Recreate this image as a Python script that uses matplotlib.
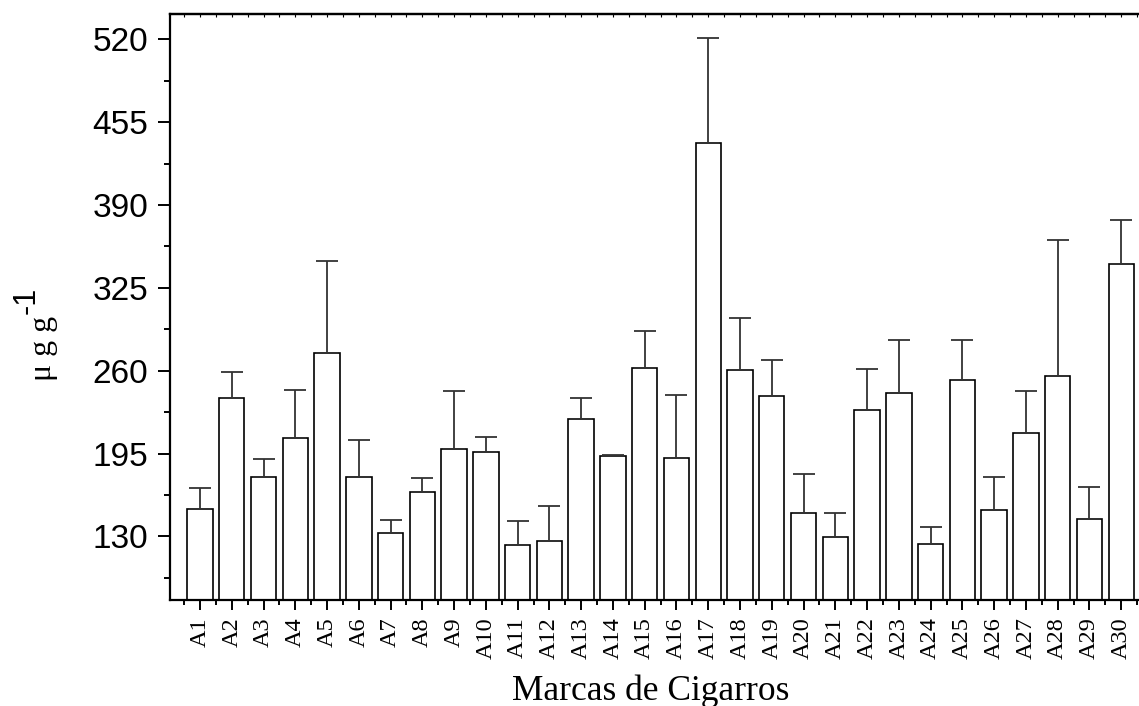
import matplotlib
matplotlib.use("Agg")
import matplotlib.pyplot as plt
from matplotlib.ticker import MultipleLocator, FixedLocator
import numpy as np

categories = [f"A{i}" for i in range(1, 31)]
means = [151.2, 238.3, 176.8, 207.4, 274.1, 176.8, 132.8, 164.5, 198.5, 196.4,
         122.9, 126.1, 221.8, 192.8, 262.1, 191.7, 438.6, 260.8, 240.1, 148.0,
         129.2, 229.1, 242.7, 124.2, 252.4, 150.4, 211.1, 255.6, 143.8, 343.4]
upper = [167.7, 258.9, 190.4, 244.8, 346.0, 205.6, 143.0, 176.0, 244.0, 207.9,
         141.8, 154.0, 238.3, 194.2, 290.9, 240.9, 521.3, 301.6, 268.1, 178.7,
         148.5, 261.0, 283.8, 137.3, 284.0, 176.8, 244.0, 362.8, 168.7, 378.2]
yticks = [130, 195, 260, 325, 390, 455, 520]

errs = [u - m for u, m in zip(upper, means)]
x = np.arange(1, len(categories) + 1)

fig = plt.figure(figsize=(11.39, 7.06), dpi=100)
ax = fig.add_axes([170/1139, 1 - 600/706, 1 - 170/1139, (600 - 14)/706])

ax.bar(x, means, width=0.8, color="white", edgecolor="black", linewidth=1.2, zorder=2)
ax.errorbar(x, means, yerr=[np.zeros(len(errs)), errs], fmt="none",
            ecolor="#333333", elinewidth=1.3, capsize=7.6, capthick=1.3, zorder=3)

ax.set_xlim(0.055, 30.56)
ax.set_ylim(80, 540)

ax.set_yticks(yticks)
ax.set_yticklabels([str(t) for t in yticks], fontsize=24, family="Liberation Sans")
ax.yaxis.set_minor_locator(MultipleLocator(32.5))
ax.set_xticks(x)
ax.set_xticklabels(categories, rotation=90, fontsize=17.5, family="Liberation Serif")
ax.xaxis.set_minor_locator(FixedLocator(np.arange(0.5, 31, 1.0)))

ax.tick_params(axis="y", which="major", direction="out", length=8.5, width=1.4, pad=7)
ax.tick_params(axis="y", which="minor", direction="out", length=4.3, width=1.4)
ax.tick_params(axis="x", which="major", direction="out", length=7.5, width=1.4, pad=5)
ax.tick_params(axis="x", which="minor", direction="out", length=3.8, width=1.4)

for s in ["left", "bottom", "top"]:
    ax.spines[s].set_linewidth(1.6)
ax.spines["right"].set_visible(False)

sec = ax.secondary_xaxis("top")
sec.set_xticks(x)
sec.set_xticklabels([])
sec.xaxis.set_minor_locator(FixedLocator(np.arange(0.5, 31, 1.0)))
sec.tick_params(which="both", direction="in", length=2.5, width=0.8)
sec.spines["top"].set_linewidth(1.6)

fig.text(651/1139, 1 - 700/706, "Marcas de Cigarros", ha="center", va="baseline",
         fontsize=25.5, family="Liberation Serif")

# y-axis label: "μ g g" with superscript "-1"
fig.text(51/1139, 1 - 348/706, "μ g g", rotation=90, rotation_mode="anchor",
         ha="center", va="baseline", fontsize=23, family="Liberation Serif")
fig.text(35/1139, 1 - 300/706, "-1", rotation=90, rotation_mode="anchor",
         ha="center", va="baseline", fontsize=22, family="Liberation Sans")

fig.savefig("out.png", dpi=100)
